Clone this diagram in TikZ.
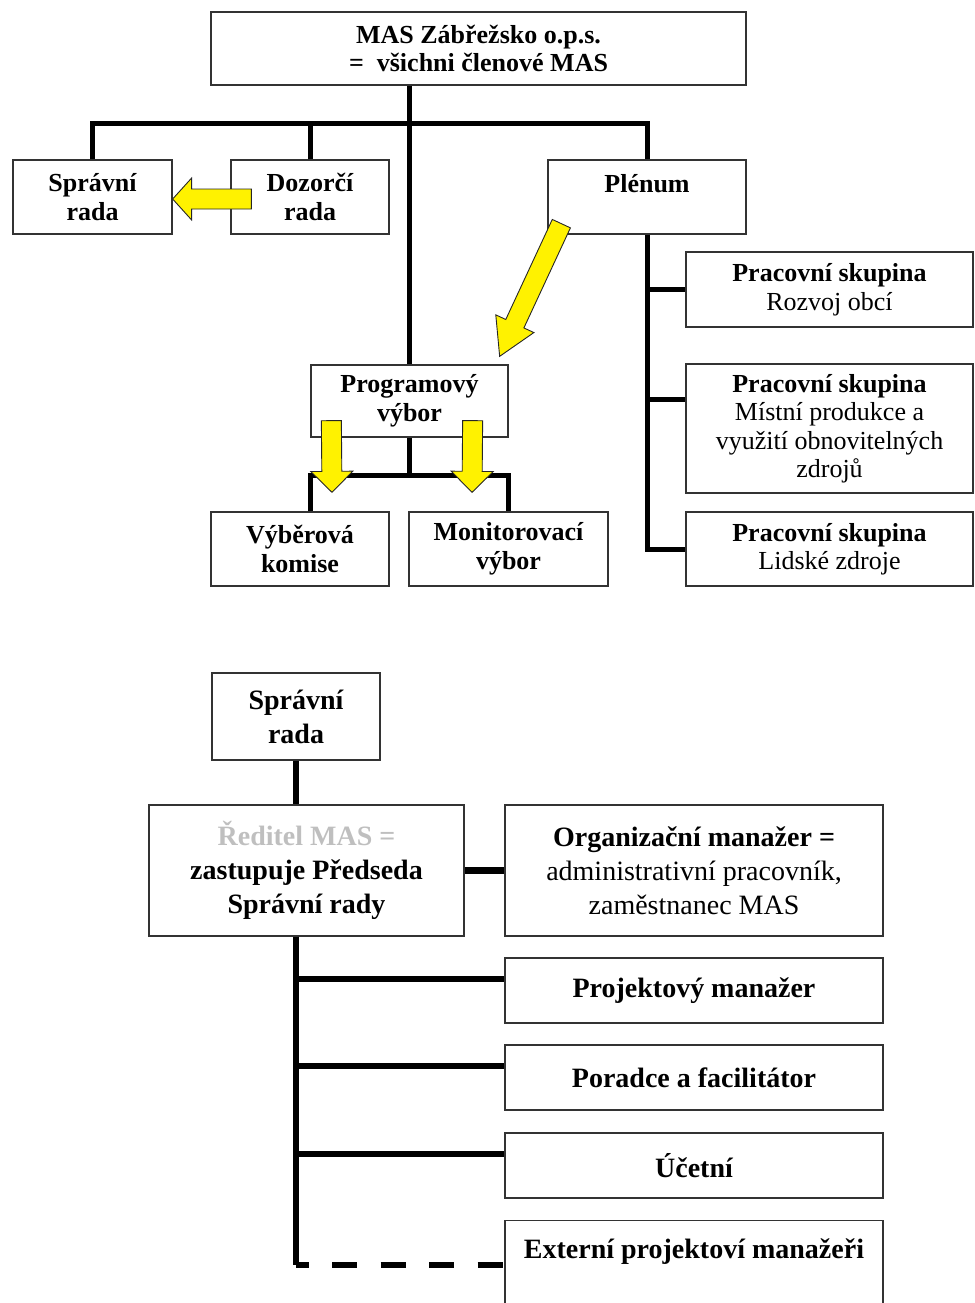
\documentclass[tikz,border=0pt]{standalone}
\usepackage{fontspec}
\setmainfont{Liberation Serif}
\usetikzlibrary{calc}
\usetikzlibrary{math}
\usetikzlibrary{positioning}

% yellow block arrow: #1 head length, #2 tail, #3 tip
\newcommand{\yarrow}[3][20]{%
  \coordinate (yh) at ($(#3)!#1pt!(#2)$);
  \filldraw[yellowarrow]
    ($(#2)!\bw pt!90:(#3)$) -- ($(yh)!\bw pt!90:(#3)$) -- ($(yh)!\hw pt!90:(#3)$)
    -- (#3) -- ($(yh)!\hw pt!-90:(#3)$) -- ($(yh)!\bw pt!-90:(#3)$)
    -- ($(#2)!\bw pt!-90:(#3)$) -- cycle;
}

\begin{document}
\begin{tikzpicture}[x=1pt,y=-1pt,
  box/.style={draw=black!80, line width=1.3pt, inner sep=0pt, align=center,
    font=\bfseries\fontsize{26}{28.5}\selectfont},
  bigbox/.style={box, font=\bfseries\fontsize{28}{34}\selectfont},
  link/.style={line width=5pt},
  biglink/.style={line width=6pt},
  yellowarrow/.style={fill=yellow, draw=black!85, line width=0.9pt, line join=miter}]

  \tikzmath{
    \bw = 10; % half width of arrow body
    \hw = 21; % half width of arrow head
  }

  \useasboundingbox (0,0) rectangle (974,1303);
  \clip (0,0) rectangle (974,1303);

  % upper chart
  \node[box, minimum width=535, minimum height=73] (mas) at (478.5,48.5)
    {MAS Zábřežsko o.p.s.\\= \ všichni členové MAS};
  \node[box, minimum width=159, minimum height=74] (spr) at (92.5,197) {Správní\\rada};
  \node[box, minimum width=158, minimum height=74] (doz) at (310,197) {Dozorčí\\rada};
  \node[box, minimum width=198, text height=32, text depth=42] (plen) at (647,197) {Plénum};
  \node[box, minimum width=197, minimum height=72] (prog) at (409.5,401) {Programový\\výbor};
  \node[box, minimum width=178, minimum height=74] (vyb) at (300,549) {Výběrová\\komise};
  \node[box, minimum width=199, minimum height=74] (mon) at (508.5,549) {Monitorovací\\výbor};

  \node[box, minimum width=287, minimum height=75] (prac1) at (829.5,289.5)
    {Pracovní skupina\\\mdseries Rozvoj obcí};
  \node[box, minimum width=287, minimum height=129] (prac2) at (829.5,428.5)
    {Pracovní skupina\\\mdseries Místní produkce a\\\mdseries využití obnovitelných\\\mdseries zdrojů};
  \node[box, minimum width=287, minimum height=74] (prac3) at (829.5,549)
    {Pracovní skupina\\\mdseries Lidské zdroje};

  % connectors
  \coordinate (bar) at (0,124);
  \draw[link] (mas.south -| prog.north) -- (prog.north);
  \draw[link] (spr.north) -- (spr.north |- bar) -- (plen.north |- bar) -- (plen.north);
  \draw[link] (doz.north) -- (doz.north |- bar);

  \draw[link] (plen.south) -- (plen.south |- prac3.west) -- (prac3.west);
  \draw[link] (plen.south |- prac1.west) -- (prac1.west);
  \coordinate (p2) at ($(prac2.north west)+(0,36)$);
  \draw[link] (plen.south |- p2) -- (p2);

  \coordinate (pj) at ($(prog.south)+(0,38)$);
  \coordinate (vj) at ($(vyb.north)+(10,0)$);
  \draw[link] (prog.south) -- (pj);
  \draw[link] (vj) -- (vj |- pj) -- (mon.north |- pj) -- (mon.north);

  % yellow arrows
  \coordinate (a1) at ($(doz.west)+(21,2)$);
  \coordinate (b1) at ($(spr.east)+(0,2)$);
  \yarrow[19]{a1}{b1}
  \coordinate (a2) at ($(plen.south west)+(14,-11)$);
  \coordinate (b2) at ($(prog.north east)+(-9,-8)$);
  \yarrow[36]{a2}{b2}
  \coordinate (a3) at ($(prog.south west)+(21,-17)$);
  \coordinate (b3) at ($(vyb.north)+(32,-19)$);
  \yarrow[21]{a3}{b3}
  \coordinate (a4) at ($(prog.south east)+(-36,-17)$);
  \coordinate (b4) at ($(mon.north)+(-36.5,-19)$);
  \yarrow[21]{a4}{b4}

  % lower chart
  \node[bigbox, minimum width=168, minimum height=87] (spr2) at (296,716.5) {Správní\\rada};
  \node[bigbox, minimum width=315, minimum height=131] (red) at (306.5,870.5)
    {\color{black!25}Ředitel MAS =\\zastupuje Předseda\\Správní rady};
  \node[bigbox, minimum width=378, minimum height=131] (org) at (694,870.5)
    {Organizační manažer =\\\mdseries administrativní pracovník,\\\mdseries zaměstnanec MAS};
  \node[bigbox, minimum width=378, minimum height=65] (proj) at (694,990.5) {Projektový manažer};
  \node[bigbox, minimum width=378, minimum height=65] (por) at (694,1077.5) {Poradce a facilitátor};
  \node[bigbox, minimum width=378, minimum height=65] (uce) at (694,1165.5) {Účetní};
  \node[bigbox, anchor=north, minimum width=378, text height=38, text depth=100] (ext)
    at (694,1220) {Externí projektoví manažeři};

  \coordinate (e1) at ($(ext.north west)+(0,45)$);
  \draw[biglink] (spr2.south) -- (spr2.south |- red.north);
  \draw[line width=7pt] (red.east) -- (org.west);
  \draw[biglink] (spr2.south |- red.south) -- (spr2.south |- e1);
  \draw[biglink] (spr2.south |- e1) -- (e1) [dash pattern=on 25pt off 23.5pt, dash phase=12.5pt];
  \draw[biglink] (spr2.south |- proj.north) ++(0,22) -- ($(proj.north west)+(0,22)$);
  \draw[biglink] (spr2.south |- por.north) ++(0,22) -- ($(por.north west)+(0,22)$);
  \draw[biglink] (spr2.south |- uce.north) ++(0,22) -- ($(uce.north west)+(0,22)$);

\end{tikzpicture}
\end{document}
